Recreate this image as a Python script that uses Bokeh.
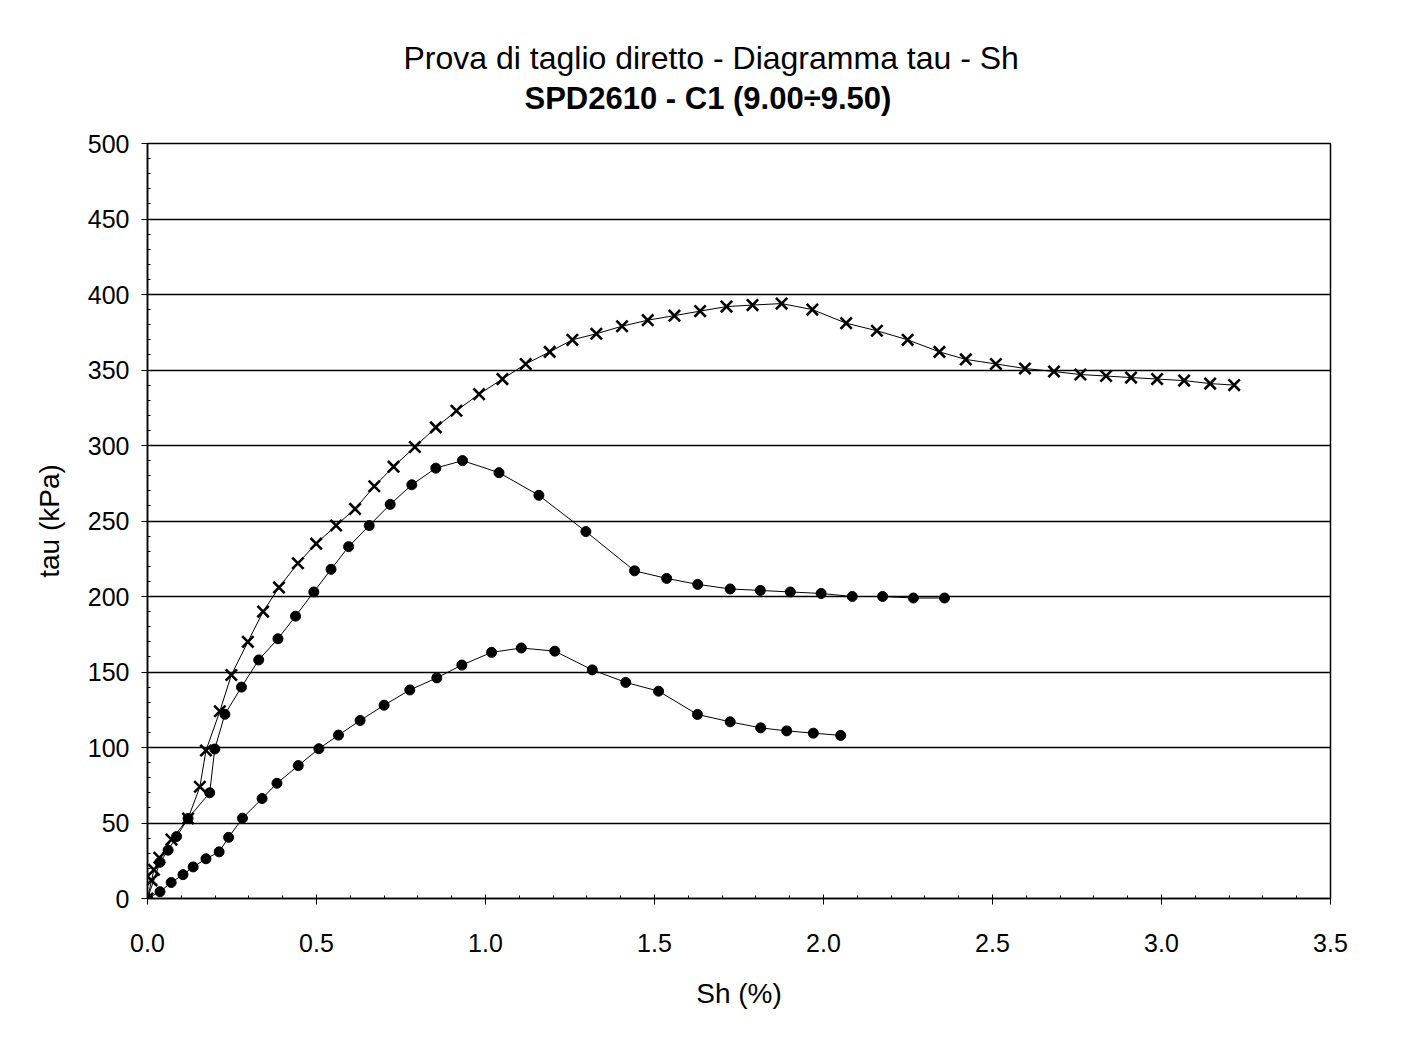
from bokeh.plotting import figure
from bokeh.models import FixedTicker, Range1d, Title, PrintfTickFormatter
from bokeh.embed import file_html
from bokeh.resources import INLINE

# ---- data ----
title_1 = "Prova di taglio diretto - Diagramma tau - Sh"
title_2 = "SPD2610 - C1 (9.00÷9.50)"
x_label = "Sh (%)"
y_label = "tau (kPa)"
x_ticks = [0.0, 0.5, 1.0, 1.5, 2.0, 2.5, 3.0, 3.5]
y_ticks = [0, 50, 100, 150, 200, 250, 300, 350, 400, 450, 500]

# series with crosses (highest normal stress)
sh_a = [0.0, 0.012, 0.019, 0.035, 0.071, 0.120, 0.155, 0.173, 0.214, 0.248, 0.297,
        0.342, 0.389, 0.445, 0.499, 0.558, 0.614, 0.671, 0.728, 0.791, 0.853, 0.914,
        0.981, 1.050, 1.119, 1.190, 1.257, 1.328, 1.404, 1.480, 1.559, 1.635, 1.713,
        1.790, 1.876, 1.967, 2.067, 2.158, 2.249, 2.343, 2.421, 2.510, 2.596, 2.682,
        2.760, 2.836, 2.910, 2.987, 3.067, 3.144, 3.215]
tau_a = [0, 12, 19, 27, 39, 53, 74, 98, 124, 148, 170,
         190, 206, 222, 235, 247, 258, 273, 286, 299, 312, 323,
         334, 344, 354, 362, 370, 374, 379, 383, 386, 389, 392,
         393, 394, 390, 381, 376, 370, 362, 357, 354, 351, 349,
         347, 346, 345, 344, 343, 341, 340]

# middle series (dots)
sh_b = [0.0, 0.037, 0.061, 0.086, 0.120, 0.184, 0.199, 0.229, 0.278, 0.329, 0.386,
        0.438, 0.492, 0.543, 0.595, 0.656, 0.718, 0.782, 0.853, 0.932, 1.040, 1.158,
        1.297, 1.441, 1.536, 1.628, 1.724, 1.813, 1.902, 1.993, 2.085, 2.175, 2.266, 2.358]
tau_b = [0, 24, 32, 41, 53, 70, 99, 122, 140, 158, 172,
         187, 203, 218, 233, 247, 261, 274, 285, 290, 282, 267,
         243, 217, 212, 208, 205, 204, 203, 202, 200, 200, 199, 199]

# lowest series (dots)
sh_c = [0.0, 0.037, 0.070, 0.105, 0.135, 0.173, 0.212, 0.240, 0.281, 0.339, 0.383,
        0.446, 0.507, 0.565, 0.629, 0.700, 0.776, 0.856, 0.930, 1.018, 1.106, 1.205,
        1.316, 1.415, 1.512, 1.627, 1.724, 1.814, 1.891, 1.970, 2.051]
tau_c = [0, 4.5, 10.6, 15.8, 20.9, 26.3, 30.9, 40.5, 53.2, 66.2, 76.3,
         88, 99.2, 108.2, 117.9, 128, 138.1, 146.1, 154.6, 163, 165.9, 163.8,
         151.4, 143.1, 137.3, 121.9, 117, 113, 111, 109.5, 108]

FONT = "Liberation Sans"

p = figure(width=1396, height=1050, output_backend="svg", toolbar_location=None,
           x_range=Range1d(0, 3.5), y_range=Range1d(0, 500),
           min_border_left=147, min_border_right=66, min_border_top=143,
           min_border_bottom=152, background_fill_color="white",
           border_fill_color="white")

p.outline_line_color = "black"
p.outline_line_width = 1.5

# axes
p.xaxis.ticker = FixedTicker(ticks=x_ticks, minor_ticks=[i / 10 for i in range(36)])
p.yaxis.ticker = FixedTicker(ticks=y_ticks, minor_ticks=list(range(0, 501, 10)))
p.xaxis.formatter = PrintfTickFormatter(format="%.1f")
for ax in (p.xaxis, p.yaxis):
    ax.axis_line_color = "black"
    ax.axis_line_width = 1.5
    ax.major_tick_line_color = "black"
    ax.major_tick_in = 4
    ax.major_tick_out = 6
    ax.minor_tick_line_color = "black"
    ax.minor_tick_in = 3
    ax.minor_tick_out = 0
    ax.major_label_text_font = FONT
    ax.major_label_text_font_size = "25px"
    ax.major_label_text_color = "black"
    ax.axis_label_text_font = FONT
    ax.axis_label_text_font_size = "28px"
    ax.axis_label_text_font_style = "normal"
    ax.axis_label_text_color = "black"
p.xaxis.axis_label = x_label
p.yaxis.axis_label = y_label
p.xaxis.major_label_standoff = 29
p.xaxis.axis_label_standoff = 23
p.yaxis.major_label_standoff = 12
p.yaxis.axis_label_standoff = 20

p.xgrid.visible = False
p.ygrid.ticker = FixedTicker(ticks=y_ticks)
p.ygrid.grid_line_color = "black"
p.ygrid.grid_line_width = 1.5

# series
p.line(sh_a, tau_a, line_color="black", line_width=1)
p.scatter(sh_a, tau_a, marker="x", size=16, line_color="black", line_width=2.6)
p.line(sh_b, tau_b, line_color="black", line_width=1)
p.scatter(sh_b, tau_b, marker="circle", size=10, fill_color="black", line_color="black")
p.line(sh_c, tau_c, line_color="black", line_width=1)
p.scatter(sh_c, tau_c, marker="circle", size=10, fill_color="black", line_color="black")

# titles (first added sits nearest the plot); a blank spacer keeps the gap
p.add_layout(Title(text=" ", standoff=25, text_font=FONT, text_font_size="1px"), "above")
p.add_layout(Title(text=title_2, align="left", offset=377, standoff=0,
                   text_font=FONT, text_font_size="31px", text_font_style="bold",
                   text_color="black"), "above")
p.add_layout(Title(text=title_1, align="left", offset=256, standoff=5,
                   text_font=FONT, text_font_size="32px", text_font_style="normal",
                   text_color="black"), "above")

open("out.html", "w").write(file_html(p, INLINE))
